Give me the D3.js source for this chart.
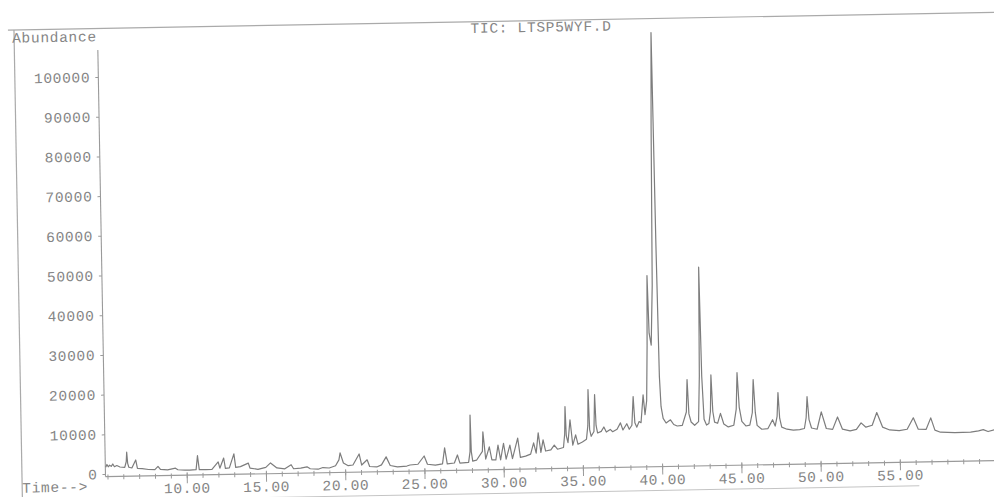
<!DOCTYPE html>
<html><head><meta charset="utf-8">
<script src="https://cdn.jsdelivr.net/npm/d3@7"></script>
<style>
html,body{margin:0;padding:0;background:#fff;overflow:hidden}
svg{display:block}
text{font-family:"Liberation Mono","DejaVu Sans Mono",monospace;font-size:14.5px;letter-spacing:0.7px;fill:#858585}
</style></head><body>
<svg id="c" width="994" height="497"></svg>
<script>
const title = "TIC: LTSP5WYF.D";
const yLabel = "Abundance";
const xLabel = "Time-->";
const yTicks = [0,10000,20000,30000,40000,50000,60000,70000,80000,90000,100000];
const xTicks = [10,15,20,25,30,35,40,45,50,55];
const xMinorTicks = [5,6,7,8,9,10,11,12,13,14,15,16,17,18,19,20,21,22,23,24,25,26,27,28,29,30,31,32,33,34,35,36,37,38,39,40,41,42,43,44,45,46,47,48,49,50,51,52,53,54,55,56,57,58,59,60,61];

// total ion chromatogram: [time (min), abundance]
const tic = [
[4.90,1700],[4.98,2400],[5.06,1800],[5.15,2200],[5.25,1900],[5.35,2500],[5.45,1800],[5.60,2100],[5.80,1700],
[6.10,1600],[6.20,3000],[6.24,5400],[6.29,2600],[6.36,1600],[6.55,1400],[6.80,3400],[6.90,1300],[7.20,1200],
[7.60,950],[8.00,900],[8.20,1700],[8.35,900],[8.80,750],[9.30,1150],[9.45,750],[9.90,600],[10.20,600],
[10.60,700],[10.70,4200],[10.80,700],[11.20,650],[11.60,700],[12.00,2550],[12.10,950],[12.35,3500],[12.45,900],
[12.70,1000],[13.00,4500],[13.10,1100],[13.40,1250],[13.90,2100],[14.00,850],[14.50,500],[15.00,950],
[15.30,2050],[15.70,750],[16.20,500],[16.60,1500],[16.75,480],[17.20,600],[17.60,900],[17.80,400],[18.30,250],
[18.60,650],[19.00,500],[19.40,1050],[19.62,2500],[19.70,4250],[19.90,1700],[20.20,1000],[20.50,1150],
[20.90,3900],[21.05,1100],[21.40,2400],[21.55,700],[22.00,550],[22.30,1050],[22.60,3050],[22.85,850],
[23.30,500],[23.90,650],[24.10,900],[24.60,1050],[25.00,3100],[25.20,1000],[25.70,750],[26.15,1050],
[26.30,5050],[26.45,1000],[26.90,1200],[27.10,3200],[27.25,1150],[27.80,1300],[27.90,4000],[27.94,13200],
[27.98,4000],[28.06,1600],[28.30,1800],[28.68,4000],[28.73,8900],[28.88,2050],[29.12,5100],[29.27,1800],
[29.52,1800],[29.67,5500],[29.82,1800],[30.02,5950],[30.17,1950],[30.42,5450],[30.57,2050],[30.92,7200],
[31.07,2300],[31.40,2600],[31.72,3100],[31.92,5900],[32.07,3300],[32.22,8400],[32.37,3500],[32.52,6600],
[32.67,3800],[33.00,4050],[33.22,5250],[33.42,4200],[33.80,4600],[33.89,8000],[33.94,14900],[33.99,7500],
[34.09,5800],[34.24,11550],[34.39,5150],[34.58,7750],[34.72,5350],[35.00,5900],[35.26,6600],[35.36,10000],
[35.41,19100],[35.47,9000],[35.56,7300],[35.74,8500],[35.82,17800],[35.88,10000],[35.97,8100],[36.20,8500],
[36.37,9600],[36.52,8300],[36.77,8950],[36.92,8350],[37.20,8950],[37.42,10550],[37.57,8750],[37.82,10300],
[37.97,8900],[38.14,9900],[38.25,17100],[38.33,10500],[38.45,9400],[38.60,10800],[38.72,10500],[38.88,17500],
[38.98,12500],[39.10,16000],[39.19,30000],[39.26,47500],[39.33,33000],[39.45,30000],[39.58,45000],
[39.69,85000],[39.79,108700],[39.86,55000],[39.93,22000],[40.00,14500],[40.12,11500],[40.30,10300],
[40.58,11100],[40.78,9900],[41.00,9500],[41.32,9650],[41.59,13000],[41.67,21150],[41.75,12500],
[41.88,10450],[42.10,9600],[42.35,10500],[42.45,22000],[42.53,49400],[42.60,22000],[42.70,11100],
[42.85,9600],[43.00,10000],[43.11,13000],[43.18,22200],[43.26,13000],[43.36,10300],[43.55,10000],
[43.74,12500],[43.94,9800],[44.22,9050],[44.57,9450],[44.74,13500],[44.83,22650],[44.93,14000],[45.08,10400],
[45.33,9200],[45.58,9400],[45.75,12500],[45.84,20850],[45.94,12500],[46.04,9300],[46.33,8300],[46.72,8450],
[47.02,10650],[47.18,9050],[47.31,11500],[47.39,17450],[47.47,11000],[47.59,8750],[47.92,8200],[48.32,7950],
[48.72,8050],[49.02,8300],[49.14,11000],[49.22,16300],[49.32,10500],[49.47,8400],[49.82,8050],[50.10,12400],
[50.40,8200],[50.80,7950],[51.12,11050],[51.42,7950],[51.90,7500],[52.30,7850],[52.60,9450],[52.90,8350],
[53.30,8800],[53.60,12000],[53.95,8300],[54.40,7550],[55.00,7350],[55.50,7650],[55.90,10500],[56.20,7600],
[56.70,7550],[57.00,10400],[57.25,7300],[57.60,6750],[58.50,6600],[59.50,6650],[60.00,6900],[60.30,7200],
[60.60,6700],[61.00,7150],[61.30,7400]
];

const svg = d3.select("#c");
const g = svg.append("g").attr("transform","rotate(-1.03,500,250)");
const x = d3.scaleLinear().domain([0,60]).range([24.2,975.2]);
const y = d3.scaleLinear().domain([0,100000]).range([466.9,69.8]);
const X0 = 101.5, AX = 469.5;
const lineCol = "#9a9a9a";

// frame lines
g.append("line").attr("x1",12).attr("x2",1010).attr("y1",21.3).attr("y2",21.3).attr("stroke","#aaa").attr("stroke-width",1.2);
g.append("line").attr("x1",18).attr("x2",18).attr("y1",21.3).attr("y2",520).attr("stroke","#aaa").attr("stroke-width",1.2);
g.append("line").attr("x1",18).attr("x2",915).attr("y1",493.3).attr("y2",493.3).attr("stroke","#c4c4c4").attr("stroke-width",1);

// y axis
const ya = g.append("g").attr("transform",`translate(${X0},0)`).attr("color",lineCol)
  .call(d3.axisLeft(y).tickValues(yTicks).tickSize(3).tickPadding(5).tickFormat(d => String(d)));
ya.select(".domain").remove();
g.append("line").attr("x1",X0).attr("x2",X0).attr("y1",42.8).attr("y2",AX).attr("stroke",lineCol).attr("stroke-width",1.1);

// x axis
const xm = g.append("g").attr("transform",`translate(0,${AX})`).attr("color",lineCol)
  .call(d3.axisBottom(x).tickValues(xMinorTicks).tickSize(3).tickFormat(""));
xm.select(".domain").remove();
xm.selectAll(".tick line").attr("y1",-2);
const xa = g.append("g").attr("transform",`translate(0,${AX})`).attr("color",lineCol)
  .call(d3.axisBottom(x).tickValues(xTicks).tickSize(8).tickFormat(d3.format(".2f")));
xa.select(".domain").remove();
xa.selectAll(".tick line").attr("y1",-3);
xa.selectAll(".tick text").attr("y",7.5);
g.append("line").attr("x1",X0).attr("x2",1010).attr("y1",AX).attr("y2",AX).attr("stroke",lineCol).attr("stroke-width",1.1);

// texts
g.append("text").attr("x",16).attr("y",34).text(yLabel);
g.append("text").attr("x",545).attr("y",32.5).attr("text-anchor","middle").text(title);
g.append("text").attr("x",18).attr("y",484).text(xLabel);

// trace
const line = d3.line().x(d => x(d[0])).y(d => y(d[1]));
g.append("path").datum(tic).attr("d",line).attr("fill","none").attr("stroke","#7d7d7d").attr("stroke-width",1.2).attr("stroke-linejoin","round");
</script>
</body></html>
